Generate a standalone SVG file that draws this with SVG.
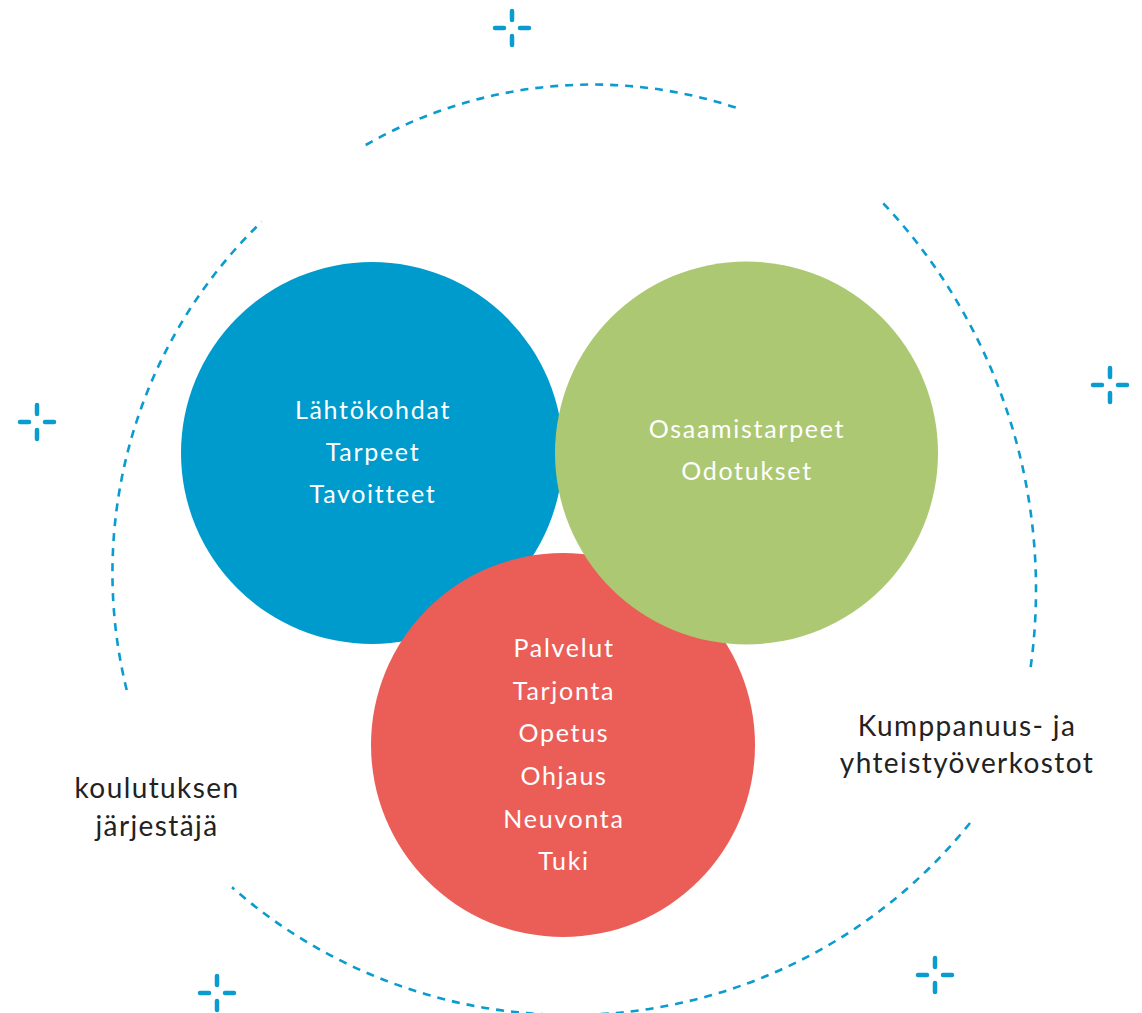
<svg xmlns="http://www.w3.org/2000/svg" width="1142" height="1013" viewBox="0 0 1142 1013">
<style>
.arc{fill:none;stroke:#0a9bcf;stroke-width:2.6;stroke-dasharray:8 7}
.sp{stroke:#0a9bcf;stroke-width:4.5;stroke-linecap:round;fill:none}
.in{font-family:Lato,"Noto Sans",sans-serif;font-size:25px;letter-spacing:1.7px;fill:#ffffff;text-anchor:middle}
.out{font-family:Lato,"Noto Sans",sans-serif;font-size:28px;letter-spacing:1.4px;fill:#222222;text-anchor:middle}
</style>
<defs>
<g id="spark"><path class="sp" d="M0,-17V-8M0,8V17M-17,0H-8M8,0H17"/></g>
</defs>
<rect width="1142" height="1013" fill="#ffffff"/>
<g id="connectors">
<path class="arc" d="M365.7,145 A456,456 0 0 1 737,108"/>
<path class="arc" d="M883.3,203.3 A565,565 0 0 1 1030,671.7"/>
<path class="arc" d="M970,823 A512,512 0 0 1 232,887.3"/>
<path class="arc" d="M126.7,690 A488,488 0 0 1 261.7,221.7"/>
</g>
<g id="sparkles">
<use href="#spark" x="512" y="28"/>
<use href="#spark" x="37" y="422"/>
<use href="#spark" x="1110" y="385"/>
<use href="#spark" x="217" y="993"/>
<use href="#spark" x="935" y="975"/>
</g>
<g id="node-blue">
<circle cx="372" cy="453" r="191" fill="#009bcd"/>
<text class="in" x="373" y="419">Lähtökohdat</text>
<text class="in" x="373" y="461">Tarpeet</text>
<text class="in" x="373" y="503">Tavoitteet</text>
</g>
<g id="node-red">
<circle cx="563" cy="745" r="192" fill="#eb5e58"/>
<text class="in" x="564" y="657">Palvelut</text>
<text class="in" x="564" y="700">Tarjonta</text>
<text class="in" x="564" y="742">Opetus</text>
<text class="in" x="564" y="785">Ohjaus</text>
<text class="in" x="564" y="828">Neuvonta</text>
<text class="in" x="564" y="870">Tuki</text>
</g>
<g id="node-green">
<circle cx="746.5" cy="453" r="191.5" fill="#adc872"/>
<text class="in" x="747" y="438">Osaamistarpeet</text>
<text class="in" x="747" y="480">Odotukset</text>
</g>
<g id="label-left">
<text class="out" x="157" y="798">koulutuksen</text>
<text class="out" x="157" y="836">järjestäjä</text>
</g>
<g id="label-right">
<text class="out" x="967" y="736">Kumppanuus- ja</text>
<text class="out" x="967" y="773">yhteistyöverkostot</text>
</g>
</svg>
